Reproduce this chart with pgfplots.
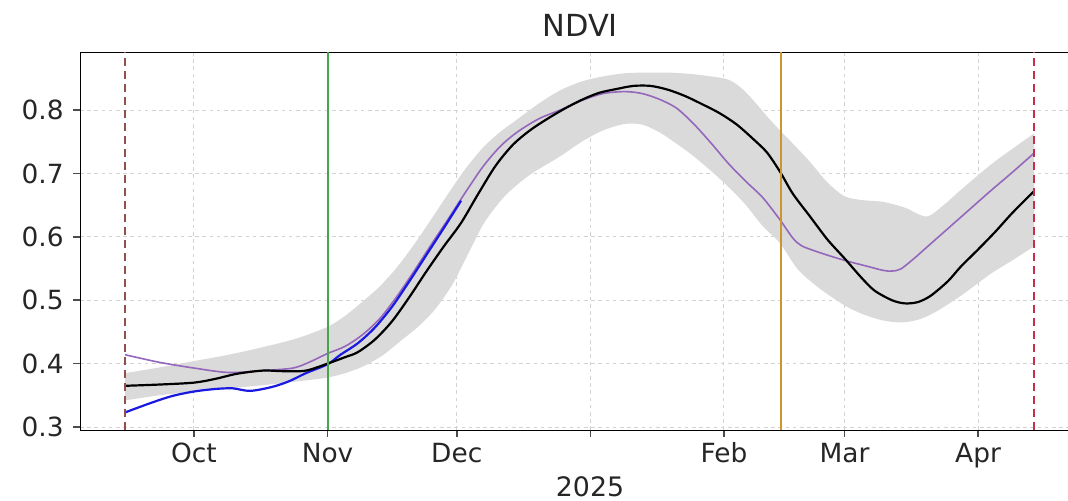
\documentclass[border=0pt]{standalone}
\usepackage{fontspec}
\setmainfont{DejaVu Sans}
\usepackage{pgfplots}
\usepackage{pgfplotstable}
\pgfplotsset{compat=1.18}
\usepgfplotslibrary{fillbetween}

\definecolor{bandgray}{RGB}{218,218,218}
\definecolor{curblue}{RGB}{25,25,225}
\definecolor{tabpurple}{RGB}{148,103,189}
\definecolor{vgreen}{RGB}{70,165,70}
\definecolor{vorange}{RGB}{205,150,45}
\definecolor{vbrown}{RGB}{145,80,75}
\definecolor{vred}{RGB}{200,45,75}

\pgfplotstableread{
d v
-16 0.365
-8 0.367
0 0.370
5 0.376
10 0.384
16 0.389
21 0.388
26 0.389
31 0.400
35 0.410
38 0.418
42 0.438
46 0.467
50 0.505
54 0.546
58 0.585
62 0.622
66 0.668
70 0.712
74 0.745
78 0.768
82 0.786
86 0.802
90 0.816
94 0.827
98 0.833
102 0.838
106 0.838
110 0.832
114 0.822
118 0.809
122 0.795
126 0.777
130 0.753
133 0.733
136 0.703
139 0.668
143 0.632
147 0.596
151 0.566
155 0.535
158 0.515
162 0.500
165 0.495
168 0.497
171 0.507
175 0.530
178 0.553
182 0.580
186 0.608
190 0.638
195 0.672
}\blackline

\pgfplotstableread{
d v
-16 0.323
-10 0.338
-5 0.349
0 0.356
5 0.360
9 0.361
13 0.357
18 0.363
22 0.372
26 0.385
31 0.399
34 0.414
38 0.432
42 0.457
46 0.490
50 0.530
54 0.572
58 0.614
62 0.657
}\blueline

\pgfplotstableread{
d v
-16 0.414
-8 0.402
0 0.393
8 0.386
16 0.389
23 0.393
27 0.403
31 0.416
35 0.427
39 0.445
43 0.470
47 0.505
51 0.545
55 0.587
59 0.628
63 0.670
67 0.710
71 0.742
75 0.765
80 0.786
85 0.800
90 0.815
95 0.826
100 0.829
104 0.826
108 0.817
112 0.803
116 0.778
120 0.748
124 0.716
128 0.688
132 0.662
136 0.627
139 0.598
141 0.586
144 0.578
148 0.569
152 0.561
156 0.554
160 0.547
162 0.546
164 0.549
167 0.565
170 0.583
175 0.613
180 0.643
185 0.673
190 0.702
195 0.732
}\purpleline

\pgfplotstableread{
d v
-16 0.385
-8 0.394
0 0.404
8 0.414
16 0.426
24 0.440
31 0.458
35 0.475
39 0.497
43 0.521
47 0.551
51 0.587
55 0.627
59 0.668
63 0.707
67 0.740
71 0.765
75 0.785
80 0.810
85 0.831
90 0.845
95 0.853
100 0.858
105 0.859
110 0.859
115 0.857
120 0.853
124 0.848
127 0.835
130 0.814
133 0.790
136 0.768
139 0.747
143 0.718
147 0.686
151 0.664
155 0.658
160 0.655
165 0.646
170 0.632
174 0.650
178 0.674
185 0.714
190 0.739
195 0.763
}\bandup

\pgfplotstableread{
d v
-16 0.342
-8 0.350
0 0.356
8 0.361
16 0.366
24 0.372
31 0.378
36 0.387
40 0.398
44 0.414
48 0.436
52 0.458
56 0.486
60 0.525
64 0.578
67 0.618
70 0.647
73 0.670
78 0.698
85 0.727
90 0.750
95 0.768
100 0.778
104 0.777
108 0.765
112 0.747
116 0.727
120 0.704
124 0.679
128 0.651
132 0.617
136 0.590
140 0.550
144 0.525
148 0.505
152 0.488
156 0.476
160 0.468
164 0.465
168 0.469
172 0.481
178 0.507
185 0.542
190 0.563
195 0.585
}\bandlo

\begin{document}
\begin{tikzpicture}
\begin{axis}[
  scale only axis,
  width=494pt, height=189pt,
  xmin=-26.46, xmax=202.88,
  ymin=0.2953, ymax=0.8915,
  axis x line=box, axis y line=left,
  axis line style={-, line width=1pt, black!70},
  every outer x axis line/.style={-},
  every outer y axis line/.style={-},
  xtick={0,31,61,92,123,151,182},
  xticklabels={Oct,Nov,Dec,,Feb,Mar,Apr},
  ytick={0.3,0.4,0.5,0.6,0.7,0.8},
  tick align=outside,
  xtick pos=left, ytick pos=left,
  major tick length=3.5pt,
  tick style={line width=0.8pt, black!70},
  grid=major,
  major grid style={gray!35, line width=0.5pt, dash pattern=on 1.8pt off 1.8pt},
  /pgf/number format/assume math mode=true,
  tick label style={font=\fontsize{13.2}{15}\selectfont, text=black!85},
  yticklabel style={/pgf/number format/fixed, /pgf/number format/precision=1, /pgf/number format/fixed zerofill, anchor=east, inner sep=0pt, xshift=-4.5pt},
  xticklabel style={anchor=base, inner sep=0pt, yshift=-13pt},
  title={NDVI},
  title style={font=\fontsize{15.2}{18}\selectfont, text=black!85, at={(axis description cs:0.5062,1)}, anchor=base, inner sep=0pt, yshift=1.5pt},
  xlabel={2025},
  xlabel style={font=\fontsize{13.4}{16}\selectfont, text=black!85, at={(axis description cs:0.5162,0)}, anchor=base, inner sep=0pt, yshift=-33.5pt},
]
\coordinate (sw) at (rel axis cs:0,0);
\coordinate (ne) at (rel axis cs:1,1);
\addplot[name path=up, draw=none, smooth, forget plot] table[x=d,y=v] {\bandup};
\addplot[name path=lo, draw=none, smooth, forget plot] table[x=d,y=v] {\bandlo};
\addplot[fill=bandgray, draw=none, forget plot] fill between[of=up and lo];
\addplot[tabpurple, line width=0.8pt, smooth, no marks] table[x=d,y=v] {\purpleline};
\addplot[curblue, line width=1.1pt, smooth, no marks] table[x=d,y=v] {\blueline};
\addplot[black, line width=1.1pt, smooth, no marks] table[x=d,y=v] {\blackline};
\addplot[vbrown, line width=1.2pt, dash pattern=on 4pt off 2.5pt, no marks] coordinates {(-16,0.2953) (-16,0.8915)};
\addplot[vgreen, line width=1pt, no marks] coordinates {(31,0.2953) (31,0.8915)};
\addplot[vorange, line width=1.2pt, no marks] coordinates {(136.3,0.2953) (136.3,0.8915)};
\addplot[vred, line width=1.2pt, dash pattern=on 4pt off 2.5pt, no marks] coordinates {(195,0.2953) (195,0.8915)};
\end{axis}
\pgfresetboundingbox
\useasboundingbox ([shift={(-40pt,-35.5pt)}]sw) rectangle ([shift={(0pt,26pt)}]ne);
\end{tikzpicture}
\end{document}
